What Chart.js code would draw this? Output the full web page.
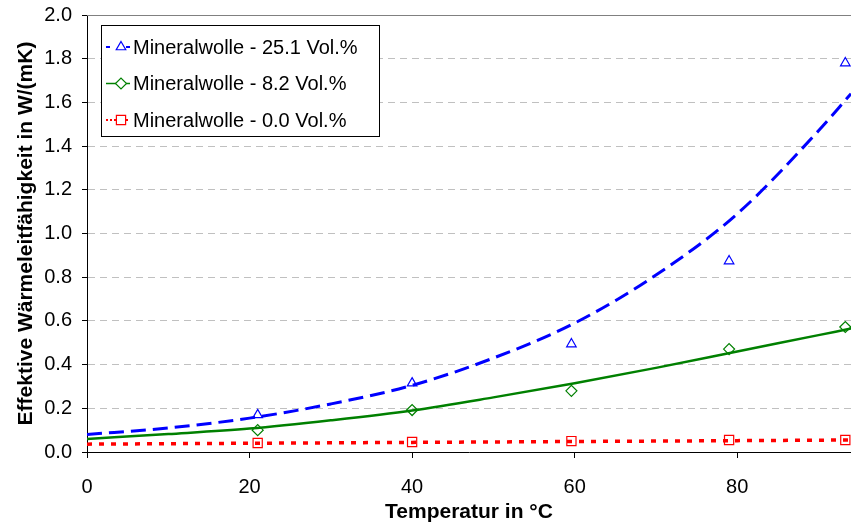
<!DOCTYPE html>
<html>
<head>
<meta charset="utf-8">
<script src="https://cdn.jsdelivr.net/npm/chart.js@4/dist/chart.umd.min.js"></script>
<style>
html, body { margin: 0; padding: 0; background: #fff; }
canvas { display: block; }
</style>
</head>
<body>
<canvas id="chart" width="851" height="528"></canvas>
<script>
// measured points
const tempMeas = [21, 40, 59.6, 79, 93.3];
const blueMeas = [0.17, 0.315, 0.494, 0.874, 1.78];
const greenMeas = [0.10, 0.192, 0.28, 0.471, 0.572];
const redMeas = [0.041, 0.046, 0.05, 0.055, 0.055];

// trend lines
const curveTemp = [0, 10, 20, 30, 40, 50, 60, 70, 80, 90, 94];
const blueFit = [0.08, 0.11, 0.155, 0.22, 0.305, 0.43, 0.59, 0.81, 1.09, 1.47, 1.64];
const greenFit = [0.06, 0.082, 0.107, 0.145, 0.19, 0.25, 0.315, 0.385, 0.46, 0.535, 0.565];
const redFit = [0.036, 0.038, 0.04, 0.042, 0.044, 0.046, 0.048, 0.05, 0.052, 0.054, 0.055];

const seriesNames = ['Mineralwolle - 25.1 Vol.%', 'Mineralwolle - 8.2 Vol.%', 'Mineralwolle - 0.0 Vol.%'];
const xTicks = [0, 20, 40, 60, 80];
const yTicks = [0, 0.2, 0.4, 0.6, 0.8, 1.0, 1.2, 1.4, 1.6, 1.8, 2.0];

const BLUE = '#0000ff';
const GREEN = '#008000';
const RED = '#ff0000';

// short line samples for the legend box
const legendDash = [[4, 16], [], [2, 2]];

function pts(xs, ys) {
    return xs.map((x, i) => ({ x: x, y: ys[i] }));
}

function markerSet(ys, color, style, r) {
    return {
        data: pts(tempMeas, ys),
        showLine: false,
        borderColor: color,
        backgroundColor: 'rgba(0,0,0,0)',
        pointStyle: style,
        pointRadius: r,
        pointBorderWidth: 1.2,
        pointHoverRadius: r
    };
}

function fitSet(ys, color, width, dash) {
    return {
        data: pts(curveTemp, ys),
        showLine: true,
        borderColor: color,
        borderWidth: width,
        borderDash: dash,
        borderCapStyle: 'butt',
        pointRadius: 0,
        cubicInterpolationMode: 'monotone',
        fill: false
    };
}

// legend in a box inside the plot
const boxLegend = {
    id: 'boxLegend',
    afterDatasetsDraw(chart) {
        const ctx = chart.ctx;
        const area = chart.chartArea;
        const x0 = area.left + 14, y0 = area.top + 10;
        const w = 278, h = 111;

        ctx.save();
        // solid top border
        ctx.strokeStyle = '#808080';
        ctx.lineWidth = 1;
        ctx.beginPath();
        ctx.moveTo(area.left, area.top + 0.5);
        ctx.lineTo(area.right, area.top + 0.5);
        ctx.stroke();

        ctx.fillStyle = '#fff';
        ctx.fillRect(x0, y0, w, h);
        ctx.strokeStyle = '#000';
        ctx.strokeRect(x0 + 0.5, y0 + 0.5, w, h);

        seriesNames.forEach((name, i) => {
            const mk = chart.data.datasets[i];
            const ln = chart.data.datasets[i + 3];
            const cy = y0 + 22 + i * 36.5;
            const lx = x0 + 5;

            ctx.setLineDash(legendDash[i]);
            ctx.strokeStyle = ln.borderColor;
            ctx.lineWidth = i == 1 ? 1.5 : 2;
            ctx.beginPath();
            ctx.moveTo(lx, cy);
            ctx.lineTo(lx + 24, cy);
            ctx.stroke();
            ctx.setLineDash([]);

            ctx.strokeStyle = mk.borderColor;
            ctx.fillStyle = '#fff';
            ctx.lineWidth = 1.2;
            Chart.helpers.drawPoint(ctx, {
                pointStyle: mk.pointStyle,
                radius: mk.pointRadius,
                rotation: 0,
                borderWidth: 1.2
            }, lx + 15, cy);

            ctx.fillStyle = '#000';
            ctx.font = '20px "Liberation Sans", Arial, sans-serif';
            ctx.textBaseline = 'middle';
            ctx.textAlign = 'left';
            ctx.fillText(name, lx + 27, cy + 1);
        });
        ctx.restore();
    }
};

new Chart(document.getElementById('chart'), {
    type: 'scatter',
    data: {
        datasets: [
            markerSet(blueMeas, BLUE, 'triangle', 5.5),
            markerSet(greenMeas, GREEN, 'rectRot', 5.5),
            markerSet(redMeas, RED, 'rect', 6.5),
            fitSet(blueFit, BLUE, 3, [15, 7]),
            fitSet(greenFit, GREEN, 2.5, []),
            fitSet(redFit, RED, 3.5, [5, 7])
        ]
    },
    options: {
        responsive: false,
        animation: false,
        layout: {
            autoPadding: false,
            padding: { top: 15, right: 0, left: 0, bottom: 0 }
        },
        plugins: {
            legend: { display: false },
            tooltip: { enabled: false }
        },
        scales: {
            x: {
                type: 'linear',
                min: 0,
                max: 94,
                afterBuildTicks: s => { s.ticks = xTicks.map(v => ({ value: v })); },
                afterFit: s => {
                    s.height = 76;
                    s.paddingLeft = 0;
                    s.paddingRight = 0;
                },
                ticks: {
                    color: '#000',
                    padding: 17,
                    font: { family: '"Liberation Sans", Arial, sans-serif', size: 20 }
                },
                grid: {
                    drawOnChartArea: false,
                    tickLength: 6,
                    tickColor: '#000'
                },
                border: { color: '#000', width: 1 },
                title: {
                    display: true,
                    text: 'Temperatur in °C',
                    color: '#000',
                    padding: { top: 0, bottom: 3 },
                    font: { family: '"Liberation Sans", Arial, sans-serif', size: 21, weight: 'bold' }
                }
            },
            y: {
                min: 0,
                max: 2,
                afterBuildTicks: s => { s.ticks = yTicks.map(v => ({ value: v })); },
                afterFit: s => {
                    s.width = 87;
                    s.paddingTop = 0;
                    s.paddingBottom = 0;
                },
                ticks: {
                    color: '#000',
                    padding: 10,
                    callback: v => v.toFixed(1),
                    font: { family: '"Liberation Sans", Arial, sans-serif', size: 20 }
                },
                grid: {
                    color: ctx => (ctx.tick && ctx.tick.value > 0 && ctx.tick.value < 2) ? '#c0c0c0' : 'rgba(0,0,0,0)',
                    tickLength: 5,
                    tickColor: '#000'
                },
                border: { color: '#000', width: 1, dash: [7, 5] },
                title: {
                    display: true,
                    text: 'Effektive Wärmeleitfähigkeit in W/(mK)',
                    color: '#000',
                    padding: { top: 14, bottom: 0 },
                    font: { family: '"Liberation Sans", Arial, sans-serif', size: 21, weight: 'bold' }
                }
            }
        }
    },
    plugins: [boxLegend]
});
</script>
</body>
</html>
